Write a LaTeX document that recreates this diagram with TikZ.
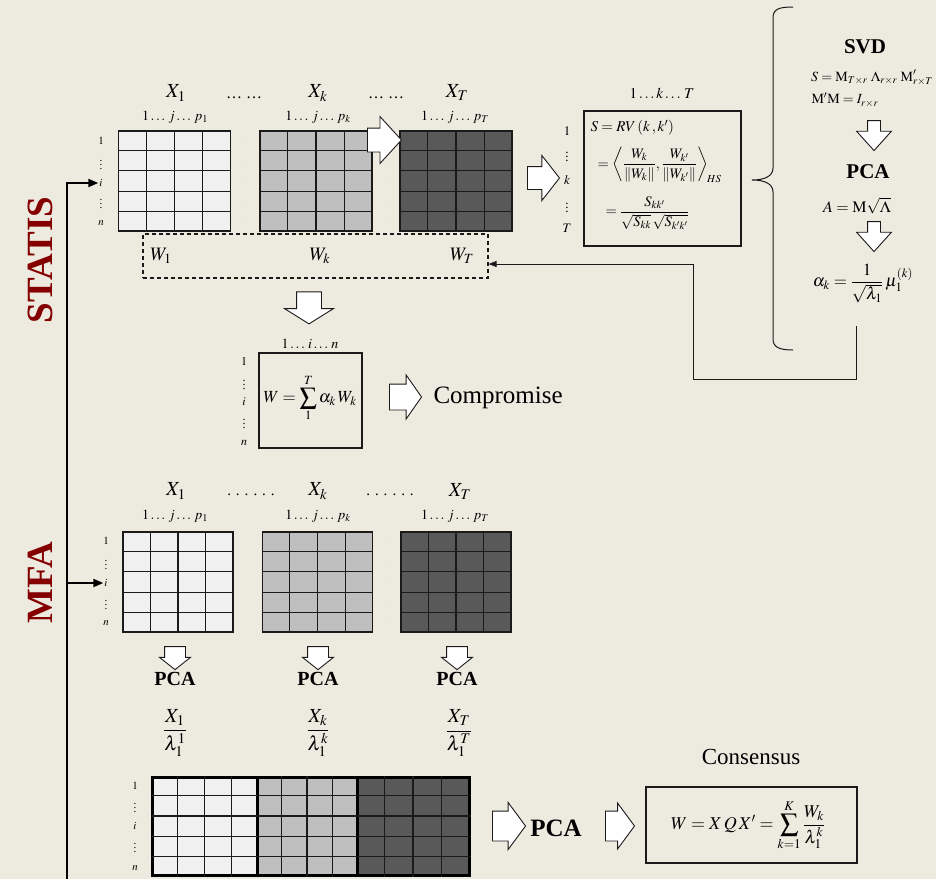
\documentclass[tikz,border=0pt]{standalone}
\usepackage{amsmath}
\usepackage{mathptmx}
\usepackage[no-math]{fontspec}
\setmainfont{Liberation Serif}
\usetikzlibrary{arrows.meta,calc,shapes.arrows}
\definecolor{paper}{HTML}{EDEBE0}
\definecolor{cellLight}{HTML}{F0F0F0}
\definecolor{cellMid}{HTML}{BFBFBF}
\definecolor{cellDark}{HTML}{595959}
\definecolor{titlered}{HTML}{840000}
\definecolor{inkdark}{HTML}{1A1A1A}

\tikzset{
  fs/.style={font=\fontsize{#1}{#1}\selectfont},
  title/.style={rotate=90, text=titlered, font=\fontsize{37}{37}\selectfont\bfseries},
  datamat/.style={draw=inkdark, line width=1.2pt, inner sep=0pt, minimum width=112pt, minimum height=100pt},
  thickmat/.style={draw=black, line width=3pt, inner sep=0pt, minimum height=98pt},
  gridline/.style={inkdark, line width=1.2pt},
  rowlab/.style={fs=11, inner sep=1pt},
  gapdots/.style={fs=8, text=white!80!gray, inner sep=0pt},
  textbox/.style={draw=inkdark, line width=1.1pt, inner sep=0pt},
  blockarrow/.style n args={4}{single arrow, draw=inkdark, fill=white, line width=0.9pt,
    inner xsep=0pt, inner ysep=#2, minimum height=#1,
    single arrow head extend=#3, single arrow tip angle=#4},
  link/.style={inkdark, line width=1pt, -{Triangle[length=8pt,width=6pt]}},
  spine/.style={black, line width=2pt, -{Triangle[length=10pt,width=8pt]}},
  stepname/.style={font=\fontsize{#1}{#1}\selectfont\bfseries}
}

% interior lines of a 4 x 5 data table
\newcommand{\matgrid}[1]{%
  \foreach \c in {1,2,3}
    \draw[gridline] ($(#1.north west)!\c/4!(#1.north east)$) -- ($(#1.south west)!\c/4!(#1.south east)$);
  \foreach \r in {1,...,4}
    \draw[gridline] ($(#1.north west)!\r/5!(#1.south west)$) -- ($(#1.north east)!\r/5!(#1.south east)$);
}

\begin{document}
\begin{tikzpicture}[x=1pt, y=-1pt, >=Stealth, fs=14]

    % Canvas
    \fill[paper] (0,0) rectangle (936,879);
    \useasboundingbox (0,0) rectangle (936,879);

    % Method titles
    \node[title] (statis) at (40,260) {STATIS};
    \node[title] (mfa) at (40,583) {MFA};

    % STATIS tables
    \node[datamat, fill=cellLight] (s1) at (174.5,181) {};
    \node[datamat, fill=cellMid] (sk) at (316,181) {};
    \node[datamat, fill=cellDark] (sT) at (456,181) {};
    \matgrid{s1} \matgrid{sk} \matgrid{sT}
    \foreach \yy in {141,161,181,201,221} {
        \node[gapdots] at (245,\yy) {...};
        \node[gapdots] at (386,\yy) {...};
    }
    \foreach \lab/\yy [count=\r] in {1/141, \vdots/162, i/183, \vdots/201, n/223}
        \node[rowlab] (s-\r) at (101,\yy) {$\lab$};

    \node[fs=20] (hs1) at (176,93) {$X_{1}$};
    \node[fs=20] (hsk) at (318,93) {$X_{k}$};
    \node[fs=20] (hsT) at (457,93) {$X_{T}$};
    \node[fs=14] at (175,117) {$1\ldots\, j\ldots\, p_{1}$};
    \node[fs=14] at (318,117) {$1\ldots\, j\ldots\, p_{k}$};
    \node[fs=14] at (455,117) {$1\ldots\, j\ldots\, p_{T}$};
    \node[fs=16] at (244,98) {\dots\ \dots};
    \node[fs=16] at (386,98) {\dots\ \dots};

    \node[blockarrow={34pt}{11.5pt}{11.5pt}{95}] (ak) at (379,140) {};

    % Similarity matrix
    \node[blockarrow={32pt}{11pt}{11pt}{104}] (asim) at (539,178) {};
    \node[textbox, minimum width=157pt, minimum height=135pt] (sim) at (662.5,178.5) {};
    \node[fs=15] at (662,93) {$1\ldots k\ldots\, T$};
    \foreach \lab/\yy [count=\r] in {1/131, \vdots/154, k/180, \vdots/205, T/228}
        \node[fs=13, inner sep=0pt] (t-\r) at (567,\yy) {$\lab$};
    \node[fs=15, anchor=west] at (587,128) {$S = RV\,(k\,,k')$};
    \node[fs=14.5, anchor=west] at (594,165)
        {$=\left\langle \dfrac{W_k}{\|W_k\|},\dfrac{W_{k'}}{\|W_{k'}\|}\right\rangle_{\!HS}$};
    \node[fs=14.5, anchor=west] at (602,213)
        {$=\dfrac{S_{kk'}}{\sqrt{S_{kk}}\,\sqrt{S_{k'k'}}}$};

    % SVD / PCA panel
    \draw[inkdark, line width=1pt] (793,7) .. controls (779,7) and (773,9) .. (773,18) -- (773,168)
        .. controls (773,176) and (765,180) .. (752,180)
        .. controls (765,180) and (773,184) .. (773,192) -- (773,339)
        .. controls (773,347) and (779,350) .. (793,350);
    \node[stepname=21] (svd) at (865,47) {SVD};
    \node[fs=14] (svdeq) at (872,78) {$S=\mathrm{M}_{T\times r}\;\Lambda_{r\times r}\;\mathrm{M}'_{r\times T}$};
    \node[fs=14, anchor=west] (ortho) at (808,100) {$\mathrm{M}'\mathrm{M}=I_{r\times r}$};
    \node[blockarrow={30pt}{6pt}{11pt}{84}, rotate=-90] (ap1) at (874,132) {};
    \node[stepname=21] (pcaS) at (868,172) {PCA};
    \node[fs=16] (aeq) at (857,206) {$A=\mathrm{M}\sqrt{\Lambda}$};
    \node[blockarrow={30pt}{6pt}{11pt}{84}, rotate=-90] (ap2) at (874,233) {};
    \node[fs=17] (alpha) at (863,283) {$\alpha_k=\dfrac{1}{\sqrt{\lambda_1}}\,\mu_1^{(k)}$};

    % Weights sent back to the W's
    \coordinate (fbStart) at (856,326);
    \coordinate (fbCorner) at (693,379);
    \node[draw=inkdark, dashed, line width=1.1pt, dash pattern=on 4pt off 3pt,
          minimum width=345pt, minimum height=44pt, inner sep=0pt] (wbox) at (315.5,256) {};
    \node[fs=19] at (161,256) {$W_{1}$};
    \node[fs=19] at (320,256) {$W_{k}$};
    \node[fs=19] at (462,256) {$W_{T}$};
    \draw[link] (fbStart) |- (fbCorner) |- ([yshift=-8pt]wbox.east);

    % Compromise
    \node[blockarrow={32pt}{12pt}{12pt}{116}, rotate=-90] (adown) at (309,304) {};
    \node[textbox, minimum width=103pt, minimum height=95pt] (comp) at (310.5,400.5) {};
    \node[fs=14] at (310,344) {$1\ldots\, i\ldots\, n$};
    \foreach \lab/\yy [count=\r] in {1/361, \vdots/382, i/402, \vdots/421, n/443}
        \node[rowlab, fs=12] (c-\r) at (244,\yy) {$\lab$};
    \node[fs=17] at (310,398) {$W=\displaystyle\sum_{1}^{T}\alpha_k\, W_k$};
    \node[blockarrow={32pt}{12.5pt}{9pt}{110}] (acomp) at (401,397) {};
    \node[fs=25, anchor=west] (comptext) at (430,398) {Compromise};

    % MFA tables
    \node[datamat, fill=cellLight, minimum width=110pt] (m1) at (178,582) {};
    \node[datamat, fill=cellMid, minimum width=110pt] (mk) at (317.5,582) {};
    \node[datamat, fill=cellDark, minimum width=110pt] (mT) at (456,582) {};
    \matgrid{m1} \matgrid{mk} \matgrid{mT}
    \foreach \yy in {542,562,582,602,622} {
        \node[gapdots] at (248,\yy) {...};
        \node[gapdots] at (387,\yy) {...};
    }
    \foreach \lab/\yy [count=\r] in {1/541, \vdots/562, i/583, \vdots/602, n/623}
        \node[rowlab] (m-\r) at (106,\yy) {$\lab$};

    \node[fs=20] at (176,491) {$X_{1}$};
    \node[fs=20] at (318,491) {$X_{k}$};
    \node[fs=20] at (460,491) {$X_{T}$};
    \node[fs=14] at (175,516) {$1\ldots\, j\ldots\, p_{1}$};
    \node[fs=14] at (318,516) {$1\ldots\, j\ldots\, p_{k}$};
    \node[fs=14] at (455,516) {$1\ldots\, j\ldots\, p_{T}$};
    \node[fs=15] at (251,495) {. . . . . .};
    \node[fs=15] at (390,495) {. . . . . .};

    \foreach \xx/\nm in {175/1, 318/k, 457/T} {
        \node[blockarrow={23pt}{10pt}{5pt}{103}, rotate=-90] (ap-\nm) at (\xx,654) {};
        \node[stepname=20] (pca-\nm) at (\xx,679) {PCA};
    }
    \node[fs=20] at (175,733) {$\dfrac{X_1}{\lambda_1^1}$};
    \node[fs=20] at (318,733) {$\dfrac{X_k}{\lambda_1^k}$};
    \node[fs=20] at (459,733) {$\dfrac{X_T}{\lambda_1^T}$};

    % Weighted joint table
    \node[thickmat, fill=cellLight, minimum width=105pt] (b1) at (204.5,826) {};
    \node[thickmat, fill=cellMid, minimum width=100pt] (b2) at (307,826) {};
    \node[thickmat, fill=cellDark, minimum width=112pt] (b3) at (413,826) {};
    \matgrid{b1} \matgrid{b2} \matgrid{b3}
    \foreach \lab/\yy [count=\r] in {1/786, \vdots/805, i/826, \vdots/845, n/868}
        \node[rowlab] (b-\r) at (135,\yy) {$\lab$};

    % Consensus
    \node[blockarrow={33pt}{14.5pt}{8.5pt}{107}] (ab1) at (503.5,826) {};
    \node[stepname=25] (pcaB) at (556,828) {PCA};
    \node[blockarrow={29pt}{14.5pt}{8pt}{107}] (ab2) at (614.5,826) {};
    \node[textbox, minimum width=211pt, minimum height=76pt] (cons) at (751.5,825) {};
    \node[fs=23] at (751,757) {Consensus};
    \node[fs=18] at (748,825) {$W = X\,Q\,X' = \displaystyle\sum_{k=1}^{K}\frac{W_k}{\lambda_1^k}$};

    % Method spine
    \coordinate (spineBot) at (67,879);
    \draw[spine] (spineBot) |- (s-3.west);
    \draw[spine] (spineBot |- m-3.west) -- (m-3.west);

\end{tikzpicture}
\end{document}
